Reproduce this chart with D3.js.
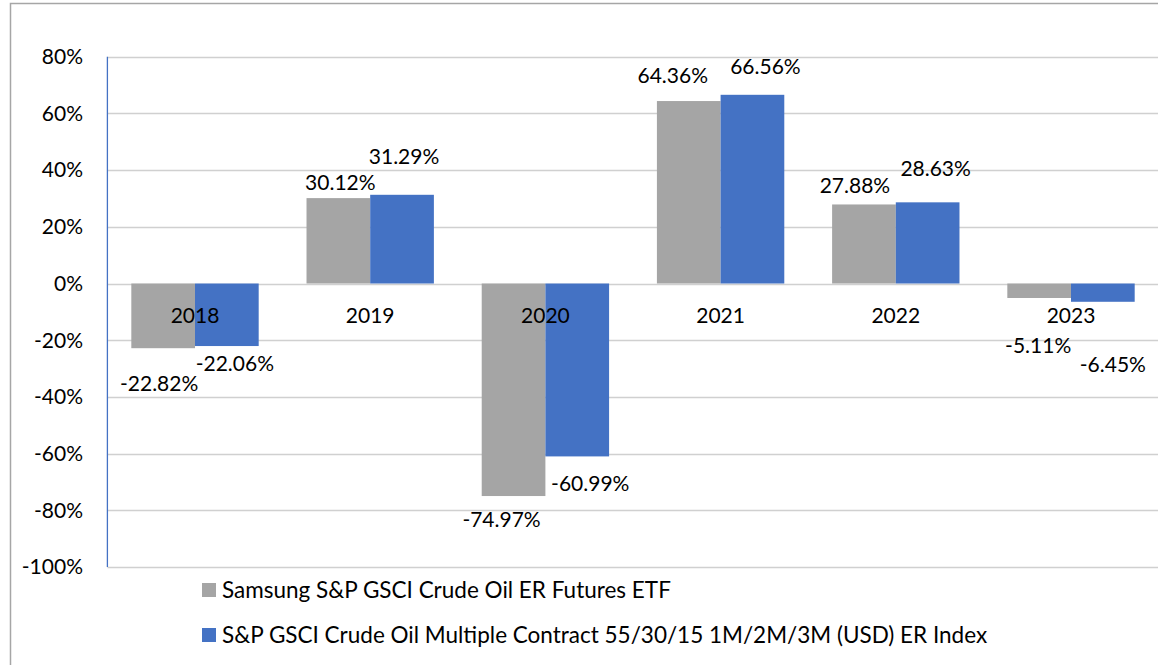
<!DOCTYPE html>
<html>
<head>
<meta charset="utf-8">
<script src="https://cdn.jsdelivr.net/npm/d3@7"></script>
<style>
  body { margin: 0; background: #fff; }
  svg text { font-family: Lato, "Open Sans", sans-serif; fill: #000; }
</style>
</head>
<body>
<svg id="chart"></svg>
<script>
// data
var years = ["2018", "2019", "2020", "2021", "2022", "2023"];
var seriesNames = [
  "Samsung S&P GSCI Crude Oil ER Futures ETF",
  "S&P GSCI Crude Oil Multiple Contract 55/30/15 1M/2M/3M (USD) ER Index"
];
var etfValues = [-22.82, 30.12, -74.97, 64.36, 27.88, -5.11];
var indexValues = [-22.06, 31.29, -60.99, 66.56, 28.63, -6.45];
var yTicks = [80, 60, 40, 20, 0, -20, -40, -60, -80, -100];
var colors = ["#a5a5a5", "#4472c4"];

// labels were dragged around by hand in the original, nudge [dx, dy] per label
var etfNudge = [[-4, 9], [2, -1], [-12, -2], [-16, -11], [-9, -5], [-1, 22]];
var indexNudge = [[8, -8], [2, -24], [13, 1], [13, -14], [8, -20], [10, 37]];

var W = 1158, H = 665;
var fontSize = 21;
var legendFontSize = 22.5;

var svg = d3.select("#chart")
    .attr("width", W)
    .attr("height", H);

// outer chart border (cropped on right/bottom)
svg.append("rect")
    .attr("x", 10.5).attr("y", 3.5)
    .attr("width", W + 20).attr("height", H + 20)
    .attr("fill", "none")
    .attr("stroke", "#a6a6a6")
    .attr("stroke-width", 1.5);

var plotLeft = 107.4, plotRight = 1158.6;

var y = d3.scaleLinear()
    .domain([-100, 80])
    .range([567, 56.7]);

var x0 = d3.scaleBand()
    .domain(years)
    .range([plotLeft, plotRight])
    .paddingInner(0.273)
    .paddingOuter(0.1365);

var x1 = d3.scaleBand()
    .domain([0, 1])
    .range([0, x0.bandwidth()]);

// gridlines
svg.append("g")
    .selectAll("line")
    .data(yTicks)
    .enter().append("line")
    .attr("x1", plotLeft)
    .attr("x2", plotRight)
    .attr("y1", function(d) { return Math.round(y(d)) + 0.5; })
    .attr("y2", function(d) { return Math.round(y(d)) + 0.5; })
    .attr("stroke", "#d0d0d0")
    .attr("stroke-width", 1.5);

// y tick labels
svg.append("g")
    .selectAll("text")
    .data(yTicks)
    .enter().append("text")
    .attr("x", 83)
    .attr("y", function(d) { return y(d); })
    .attr("dy", "0.35em")
    .attr("text-anchor", "end")
    .style("font-size", fontSize + "px")
    .text(function(d) { return d + "%"; });

var rows = [];
years.forEach(function(yr, i) {
  rows.push({year: yr, s: 0, v: etfValues[i], nudge: etfNudge[i]});
  rows.push({year: yr, s: 1, v: indexValues[i], nudge: indexNudge[i]});
});

// bars
svg.append("g")
    .selectAll("rect")
    .data(rows)
    .enter().append("rect")
    .attr("x", function(d) { return x0(d.year) + x1(d.s); })
    .attr("width", x1.bandwidth())
    .attr("y", function(d) { return y(Math.max(0, d.v)); })
    .attr("height", function(d) { return Math.abs(y(d.v) - y(0)); })
    .attr("fill", function(d) { return colors[d.s]; });

// y axis line
svg.append("line")
    .attr("x1", plotLeft).attr("x2", plotLeft)
    .attr("y1", y(80)).attr("y2", y(-100))
    .attr("stroke", "#4472c4")
    .attr("stroke-width", 1.3);

// category labels sit just under the zero line, over the bars
svg.append("g")
    .selectAll("text")
    .data(years)
    .enter().append("text")
    .attr("x", function(d) { return x0(d) + x0.bandwidth() / 2; })
    .attr("y", y(0) + 32)
    .attr("dy", "0.35em")
    .attr("text-anchor", "middle")
    .style("font-size", fontSize + "px")
    .text(function(d) { return d; });

// value labels, outside end
svg.append("g")
    .selectAll("text")
    .data(rows)
    .enter().append("text")
    .attr("x", function(d) { return x0(d.year) + x1(d.s) + x1.bandwidth() / 2 + d.nudge[0]; })
    .attr("y", function(d) {
      var off = d.v >= 0 ? -14 : 26;
      return y(d.v) + off + d.nudge[1];
    })
    .attr("dy", "0.35em")
    .attr("text-anchor", "middle")
    .style("font-size", fontSize + "px")
    .text(function(d) { return d.v.toFixed(2) + "%"; });

// legend
var legend = svg.append("g")
    .selectAll("g")
    .data(seriesNames)
    .enter().append("g")
    .attr("transform", function(d, i) { return "translate(202," + (590 + i * 45) + ")"; });

legend.append("rect")
    .attr("x", 0).attr("y", -7)
    .attr("width", 14).attr("height", 14)
    .attr("fill", function(d, i) { return colors[i]; });

legend.append("text")
    .attr("x", 20)
    .attr("y", 0)
    .attr("dy", "0.35em")
    .style("font-size", legendFontSize + "px")
    .text(function(d) { return d; });
</script>
</body>
</html>
